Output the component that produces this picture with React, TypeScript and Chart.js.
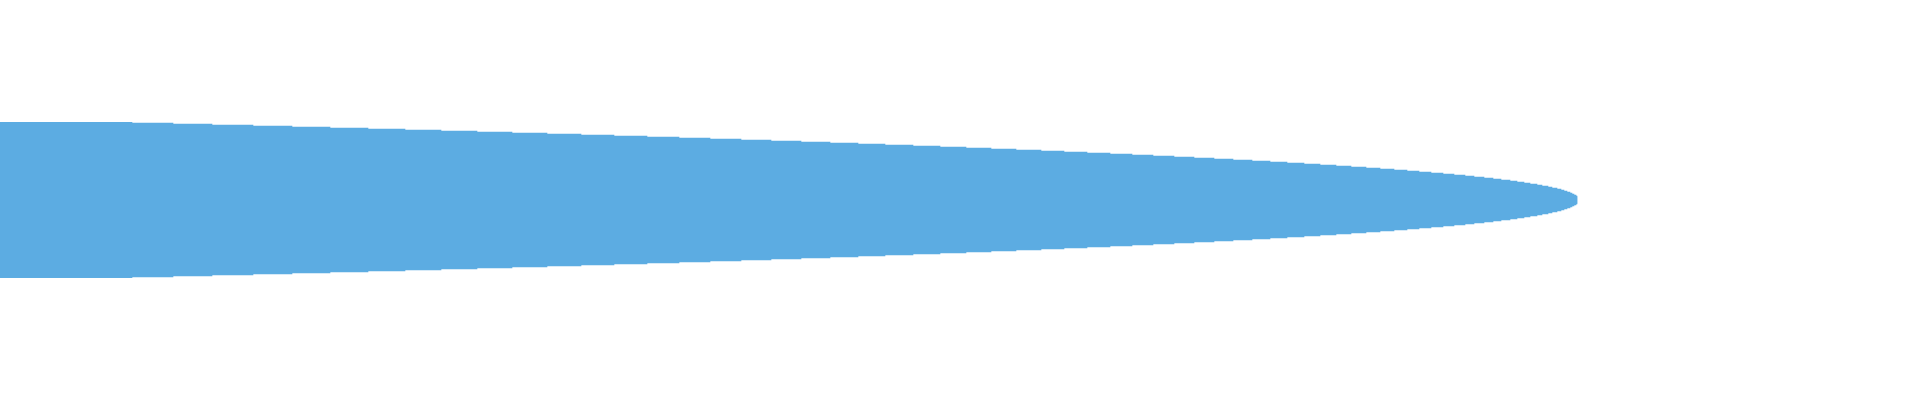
import React, { useEffect, useRef } from "react";
import { Chart, registerables } from "chart.js";

Chart.register(...registerables);

// Lengths of the horizontal bars, from the outermost (top) row to the centre row.
// The shape is symmetric, so the lower half mirrors these values.
const topHalfLengths: number[] = [
  132, 173, 212, 253, 292, 330, 368, 405, 441, 477,
  512, 547, 581, 614, 647, 679, 710, 741, 771, 801,
  830, 858, 885, 913, 940, 966, 991, 1016, 1041, 1064,
  1087, 1110, 1132, 1153, 1174, 1194, 1214, 1233, 1252, 1270,
  1287, 1304, 1320, 1336, 1351, 1366, 1380, 1394, 1407, 1419,
  1431, 1443, 1454, 1465, 1474, 1484, 1493, 1501, 1510, 1517,
  1524, 1530, 1537, 1542, 1548, 1552, 1557, 1561, 1564, 1567,
  1570, 1572, 1574, 1576, 1577, 1577, 1577, 1577,
];

const values: number[] = [...topHalfLengths, ...[...topHalfLengths].reverse()];
const categories: string[] = values.map((_, i) => `Row ${i + 1}`);

const X_MIN = 0;
const X_MAX = 1920;
const BAR_COLOR = "#5DADE2";

export default function App() {
  const canvasRef = useRef<HTMLCanvasElement | null>(null);

  useEffect(() => {
    const canvas = canvasRef.current;
    if (!canvas) return;
    const chart = new Chart(canvas, {
      type: "bar",
      data: {
        labels: categories,
        datasets: [
          {
            label: "Length",
            data: values,
            backgroundColor: BAR_COLOR,
            borderWidth: 0,
            categoryPercentage: 1,
            barPercentage: 1,
          },
        ],
      },
      options: {
        indexAxis: "y",
        animation: false,
        responsive: false,
        maintainAspectRatio: false,
        devicePixelRatio: 1,
        layout: { padding: { top: 122, bottom: 122, left: 0, right: 0 } },
        plugins: {
          legend: { display: false },
          tooltip: { enabled: false },
          title: { display: false },
        },
        scales: {
          x: { type: "linear", min: X_MIN, max: X_MAX, display: false },
          y: { type: "category", display: false, offset: true },
        },
      },
    });
    return () => chart.destroy();
  }, []);

  return (
    <div style={{ position: "absolute", left: 0, top: 0, width: 1920, height: 400, background: "#fff" }}>
      <canvas ref={canvasRef} width={1920} height={400} style={{ display: "block" }} />
    </div>
  );
}
